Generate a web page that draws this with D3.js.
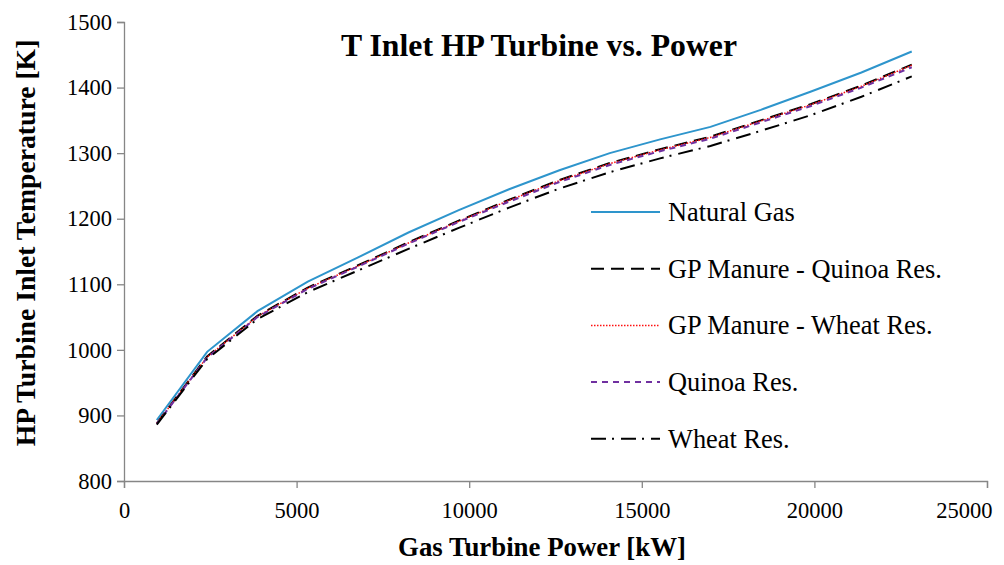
<!DOCTYPE html>
<html>
<head>
<meta charset="utf-8">
<script src="https://cdn.jsdelivr.net/npm/d3@7"></script>
<style>
  body { margin: 0; background: #fff; }
  svg { display: block; }
  text { font-family: "Liberation Serif", "Times New Roman", serif; fill: #000; }
  .axis path, .axis line { stroke: #868686; stroke-width: 1.3; }
</style>
</head>
<body>
<div class="chart"></div>
<script>
// power values (kW) shared by all series
var power = [950, 2408, 3866, 5324, 6782, 8240, 9698, 11156, 12614, 14072, 15530, 16988, 18446, 19904, 21362, 22820];

// HP turbine inlet temperature (K) for each fuel
var naturalGas   = [893, 997, 1059, 1104, 1141, 1179, 1213, 1245, 1274, 1300, 1321, 1340, 1366, 1394, 1423, 1455];
var gpQuinoa     = [888, 990, 1052, 1095, 1129, 1164, 1197, 1229, 1259, 1285, 1306, 1325, 1350, 1375, 1403, 1435];
var gpWheat      = [888, 989, 1051, 1094, 1128, 1163, 1196, 1228, 1258, 1284, 1305, 1324, 1349, 1374, 1402, 1434];
var quinoaRes    = [887, 988, 1050, 1093, 1127, 1162, 1195, 1226, 1256, 1282, 1303, 1322, 1347, 1372, 1400, 1431];
var wheatRes     = [886, 986, 1047, 1088, 1121, 1154, 1186, 1217, 1246, 1271, 1292, 1311, 1334, 1358, 1386, 1417];

var seriesNames = ["Natural Gas", "GP Manure - Quinoa Res.", "GP Manure - Wheat Res.", "Quinoa Res.", "Wheat Res."];
var xTicks = [0, 5000, 10000, 15000, 20000, 25000];
var yTicks = [800, 900, 1000, 1100, 1200, 1300, 1400, 1500];

var series = [
    {name: seriesNames[0], values: naturalGas, color: "#2e95cc", width: 2,   dash: null},
    {name: seriesNames[1], values: gpQuinoa,   color: "#000000", width: 2,   dash: "13,7"},
    {name: seriesNames[2], values: gpWheat,    color: "#ff1010", width: 1.5, dash: "1.5,1.5"},
    {name: seriesNames[3], values: quinoaRes,  color: "#7030a0", width: 2,   dash: "6,5"},
    {name: seriesNames[4], values: wheatRes,   color: "#000000", width: 2,   dash: "15,6,2,7"}
];

var svgWidth = 1004, svgHeight = 565;
var margin = {top: 22, right: 17, bottom: 84, left: 124};
var width = svgWidth - margin.left - margin.right;
var height = svgHeight - margin.top - margin.bottom;

// scale a text's font so it spans the wanted width
function fitText(sel, target) {
    var len = sel.node().getComputedTextLength();
    var fs = parseFloat(sel.style("font-size"));
    sel.style("font-size", (fs * target / len) + "px");
}

var svg = d3.select(".chart")
    .append("svg")
    .attr("width", svgWidth)
    .attr("height", svgHeight);

var chart = svg.append("g")
    .attr("transform", "translate(" + margin.left + "," + margin.top + ")");

var xScale = d3.scaleLinear().domain([0, 25000]).range([0, width]);
var yScale = d3.scaleLinear().domain([800, 1500]).range([height, 0]);

// axes
var bottomAxis = d3.axisBottom(xScale).tickValues(xTicks).tickSize(7).tickPadding(14).tickFormat(d3.format("d"));
var leftAxis = d3.axisLeft(yScale).tickValues(yTicks).tickSize(7).tickPadding(5).tickFormat(d3.format("d"));

var xAxisG = chart.append("g")
    .attr("class", "axis x-axis")
    .attr("transform", "translate(0," + height + ")")
    .call(bottomAxis);

var yAxisG = chart.append("g")
    .attr("class", "axis y-axis")
    .call(leftAxis);

chart.selectAll(".axis").attr("font-family", null).attr("font-size", null);
chart.selectAll(".axis text").style("font-size", "22.5px");

// last x label is pulled inside the chart edge, like the original
xAxisG.selectAll(".tick text")
    .filter(function(d) { return d === 25000; })
    .attr("text-anchor", "end")
    .attr("x", 5);

// lines
var line = d3.line()
    .x(function(d, i) { return xScale(power[i]); })
    .y(function(d) { return yScale(d); });

chart.selectAll(".series")
    .data(series)
    .enter().append("path")
    .attr("class", "series")
    .attr("fill", "none")
    .attr("stroke", function(d) { return d.color; })
    .attr("stroke-width", function(d) { return d.width; })
    .attr("stroke-dasharray", function(d) { return d.dash; })
    .attr("d", function(d) { return line(d.values); });

// legend
var legend = svg.append("g").attr("transform", "translate(591,212)");
var rows = legend.selectAll(".row")
    .data(series)
    .enter().append("g")
    .attr("class", "row")
    .attr("transform", function(d, i) { return "translate(0," + (i * 56.7) + ")"; });

rows.append("line")
    .attr("x1", 0).attr("x2", 69)
    .attr("stroke", function(d) { return d.color; })
    .attr("stroke-width", function(d) { return d.width; })
    .attr("stroke-dasharray", function(d) { return d.dash; });

var legendText = rows.append("text")
    .attr("x", 77)
    .attr("dy", "0.34em")
    .style("font-size", "22px")
    .text(function(d) { return d.name; });

// all legend entries share the size that makes the longest one fit
var longest = legendText.filter(function(d, i) { return i === 1; });
fitText(longest, 274);
legendText.style("font-size", longest.style("font-size"));

// title
var title = svg.append("text")
    .attr("x", 539)
    .attr("y", 56)
    .attr("text-anchor", "middle")
    .style("font-size", "27px")
    .style("font-weight", "bold")
    .text("T Inlet HP Turbine vs. Power");
fitText(title, 396);

// x-axis label
var xLabel = svg.append("text")
    .attr("x", 542)
    .attr("y", 556)
    .attr("text-anchor", "middle")
    .style("font-size", "22px")
    .style("font-weight", "bold")
    .text("Gas Turbine Power [kW]");
fitText(xLabel, 288);

// y-axis label
var yLabel = svg.append("text")
    .attr("transform", "translate(35,243) rotate(-90)")
    .attr("text-anchor", "middle")
    .style("font-size", "22px")
    .style("font-weight", "bold")
    .text("HP Turbine Inlet Temperature [K]");
fitText(yLabel, 407);
</script>
</body>
</html>
